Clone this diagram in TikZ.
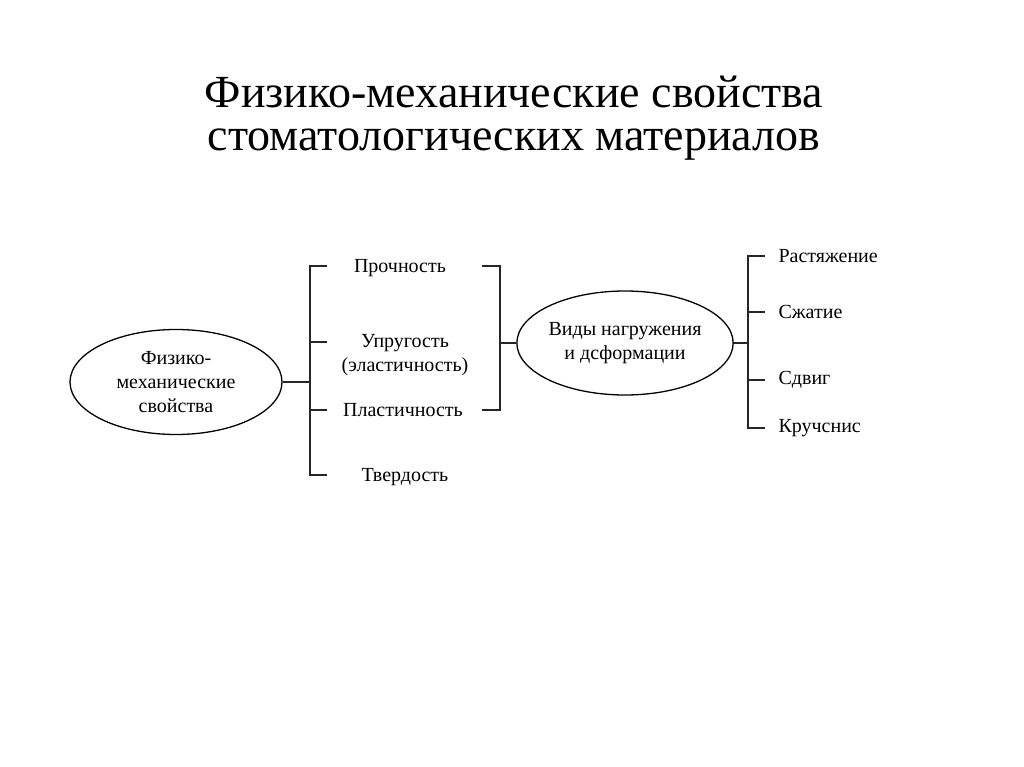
\documentclass[tikz,border=0pt]{standalone}
\usepackage{fontspec}
\setmainfont{Liberation Serif}
\usetikzlibrary{shapes.geometric}
\begin{document}
\begin{tikzpicture}[x=1pt,y=-1pt,
  ln/.style={line width=1.3pt,black!85},
  ell/.style={draw,ellipse,line width=1.3pt,inner sep=0pt},
  lab/.style={font=\fontsize{20}{24}\selectfont,align=center},
  rlab/.style={font=\fontsize{20}{24}\selectfont,anchor=west}]
\useasboundingbox (0,0) rectangle (1024,767);
\fill[white] (0,0) rectangle (1024,767);
\node[font=\fontsize{46}{43}\selectfont,align=center] (title) at (514,118) {Физико-механические свойства\\стоматологических материалов};
% left ellipse
\node[ell,minimum width=212pt,minimum height=105pt,lab] (e1) at (176,382) {Физико-\\механические\\свойства};
\coordinate (lb1) at (310,266); \coordinate (lb2) at (310,475); \coordinate (lbm) at (310,382);
\node[lab] (p1) at (400,268) {Прочность};
\node[lab] (p2) at (405,355) {Упругость\\(эластичность)};
\node[lab] (p3) at (403,410) {Пластичность};
\node[lab] (p4) at (405,477) {Твердость};
\draw[ln] (e1.east) -- (lbm);
\draw[ln] (327,266) -- (lb1) -- (lb2) -- (327,475);
\draw[ln] (310,342) -- (327,342);
\draw[ln] (310,410) -- (327,410);
% right bracket
\coordinate (rb1) at (500,266); \coordinate (rb2) at (500,410); \coordinate (rbm) at (500,343);
\draw[ln] (482,266) -- (rb1) -- (rb2) -- (482,410);
\node[ell,minimum width=210pt,minimum height=104pt,lab] (e2) at (625,343) {Виды нагружения\\и дсформации};
\draw[ln] (rbm) -- (e2.west);
\coordinate (sb1) at (748,256); \coordinate (sb2) at (748,428); \coordinate (sbm) at (748,343);
\draw[ln] (e2.east) -- (sbm);
\draw[ln] (765,256) -- (sb1) -- (sb2) -- (765,428);
\draw[ln] (748,312) -- (765,312);
\draw[ln] (748,380) -- (765,380);
\node[rlab] (q1) at (775,256) {Растяжение};
\node[rlab] (q2) at (775,312) {Сжатие};
\node[rlab] (q3) at (775,380) {Сдвиг};
\node[rlab] (q4) at (775,428) {Кручснис};
\end{tikzpicture}
\end{document}
